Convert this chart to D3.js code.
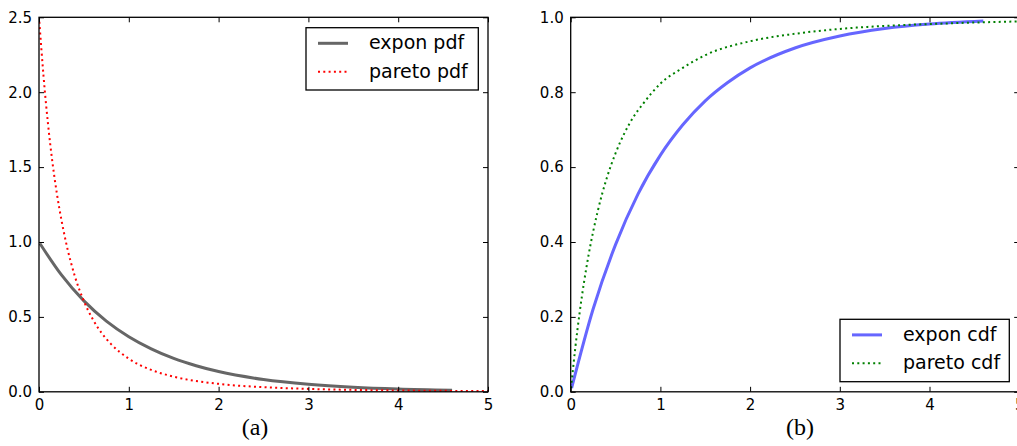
<!DOCTYPE html>
<html>
<head>
<meta charset="utf-8">
<script src="https://cdn.jsdelivr.net/npm/d3@7"></script>
<style>
  html, body { margin: 0; padding: 0; background: #fff; }
  svg { display: block; }
  .tick text { font-family: "DejaVu Sans", sans-serif; font-size: 15px; fill: #000; }
  .tick line { stroke: #000; stroke-width: 1; }
  .legend text { font-family: "DejaVu Sans", sans-serif; font-size: 19px; fill: #000; }
  .caption { font-family: "Liberation Serif", "Times New Roman", serif; font-size: 24px; fill: #000; }
</style>
</head>
<body>
<script>
// ---- data ----
const exponX   = [0.01, 0.25, 0.5, 0.75, 1.0, 1.25, 1.5, 1.75, 2.0, 2.5, 3.0, 3.5, 4.0, 4.6];
const exponPdf = [0.99, 0.78, 0.607, 0.472, 0.368, 0.287, 0.223, 0.174, 0.135, 0.082, 0.050, 0.030, 0.018, 0.010];
const exponCdf = [0.01, 0.221, 0.393, 0.528, 0.632, 0.713, 0.777, 0.826, 0.865, 0.918, 0.950, 0.970, 0.982, 0.990];

const paretoX   = [0.004, 0.05, 0.1, 0.15, 0.2, 0.3, 0.4, 0.5, 0.6, 0.7, 0.8, 1.0, 1.25, 1.5, 2.0, 2.5, 3.0, 3.5, 4.0, 4.5, 5.0];
const paretoPdf = [2.47, 2.11, 1.79, 1.53, 1.32, 1.00, 0.77, 0.605, 0.483, 0.390, 0.320, 0.221, 0.146, 0.101, 0.053, 0.031, 0.0195, 0.013, 0.0089, 0.0064, 0.0047];
const paretoCdf = [0.01, 0.115, 0.212, 0.295, 0.366, 0.481, 0.569, 0.637, 0.691, 0.734, 0.767, 0.823, 0.865, 0.899, 0.936, 0.956, 0.969, 0.977, 0.982, 0.986, 0.989];

const xTicks = [0, 1, 2, 3, 4, 5];
const pdfTicks = [0.0, 0.5, 1.0, 1.5, 2.0, 2.5];
const cdfTicks = [0.0, 0.2, 0.4, 0.6, 0.8, 1.0];

const W = 1017, H = 446;
const svg = d3.select("body").append("svg").attr("width", W).attr("height", H);
svg.append("rect").attr("width", W).attr("height", H).attr("fill", "#fff");

const plotTop = 17.3, plotBottom = 391.8;

function panel(opts) {
  const { left, right, yMax, yTicks, series, legend, caption, id } = opts;
  const x = d3.scaleLinear().domain([0, 5]).range([left, right]);
  const y = d3.scaleLinear().domain([0, yMax]).range([plotBottom, plotTop]);
  const g = svg.append("g");

  g.append("clipPath").attr("id", id)
    .append("rect").attr("x", left).attr("y", plotTop)
    .attr("width", right - left).attr("height", plotBottom - plotTop);

  // series
  series.forEach(s => {
    const pts = s.xs.map((v, i) => [v, s.ys[i]]);
    g.append("path")
      .attr("clip-path", `url(#${id})`)
      .attr("d", d3.line().x(d => x(d[0])).y(d => y(d[1])).curve(d3.curveMonotoneX)(pts))
      .attr("fill", "none")
      .attr("stroke", s.color)
      .attr("stroke-width", s.width)
      .attr("stroke-dasharray", s.dash || null);
  });

  // axes with inward ticks on all four sides
  const fmt = d3.format(".1f");
  const ax = (sel) => sel.call(s => s.select(".domain").remove());
  g.append("g").attr("transform", `translate(0,${plotBottom})`)
    .call(d3.axisBottom(x).tickValues(xTicks).tickFormat(d3.format("d")).tickSize(-5).tickPadding(8)).call(ax);
  g.append("g").attr("transform", `translate(0,${plotTop})`)
    .call(d3.axisTop(x).tickValues(xTicks).tickFormat("").tickSize(-5)).call(ax);
  g.append("g").attr("transform", `translate(${left},0)`)
    .call(d3.axisLeft(y).tickValues(yTicks).tickFormat(fmt).tickSize(-5).tickPadding(7)).call(ax);
  g.append("g").attr("transform", `translate(${right},0)`)
    .call(d3.axisRight(y).tickValues(yTicks).tickFormat("").tickSize(-5)).call(ax);

  g.append("rect").attr("x", left).attr("y", plotTop)
    .attr("width", right - left).attr("height", plotBottom - plotTop)
    .attr("fill", "none").attr("stroke", "#000").attr("stroke-width", 1.3);

  // legend
  const lg = g.append("g").attr("class", "legend");
  lg.append("rect").attr("x", legend.x).attr("y", legend.y)
    .attr("width", legend.w).attr("height", legend.h)
    .attr("fill", "#fff").attr("stroke", "#000").attr("stroke-width", 1.3);
  series.forEach((s, i) => {
    const ly = legend.y + 15.6 + i * 28.4;
    lg.append("line")
      .attr("x1", legend.x + 12).attr("x2", legend.x + 42)
      .attr("y1", ly).attr("y2", ly)
      .attr("stroke", s.color).attr("stroke-width", s.width)
      .attr("stroke-dasharray", s.dash || null);
    lg.append("text").attr("x", legend.x + 63).attr("y", ly + 6)
      .text(s.label);
  });

  svg.append("text").attr("class", "caption")
    .attr("x", caption.x).attr("y", 435).attr("text-anchor", "middle")
    .text(caption.text);
}

panel({
  id: "clipA", left: 39, right: 488, yMax: 2.5, yTicks: pdfTicks,
  series: [
    { xs: exponX, ys: exponPdf, color: "#666666", width: 3, label: "expon pdf" },
    { xs: paretoX, ys: paretoPdf, color: "#ff0000", width: 2, dash: "2,3.3", label: "pareto pdf" }
  ],
  legend: { x: 306, y: 27.7, w: 172.3, h: 62.3 },
  caption: { x: 255, text: "(a)" }
});

panel({
  id: "clipB", left: 570.7, right: 1019.2, yMax: 1.0, yTicks: cdfTicks,
  series: [
    { xs: exponX, ys: exponCdf, color: "#6666ff", width: 3, label: "expon cdf" },
    { xs: paretoX, ys: paretoCdf, color: "#008000", width: 2, dash: "2,3.3", label: "pareto cdf" }
  ],
  legend: { x: 840, y: 319.3, w: 169.3, h: 62.4 },
  caption: { x: 800, text: "(b)" }
});
</script>
</body>
</html>
